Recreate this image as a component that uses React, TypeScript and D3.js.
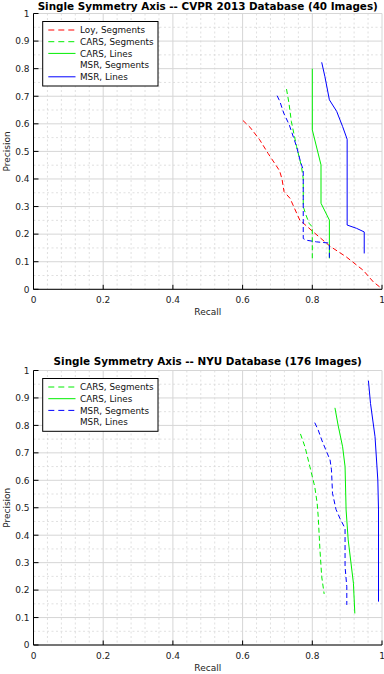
import React from 'react'
import * as d3 from 'd3'

// tick labels
const xTickValues = [0, 0.2, 0.4, 0.6, 0.8, 1]
const xTickLabels = ['0', '0.2', '0.4', '0.6', '0.8', '1']
const yTickValues = [0, 0.1, 0.2, 0.3, 0.4, 0.5, 0.6, 0.7, 0.8, 0.9, 1]
const yTickLabels = ['0', '0.1', '0.2', '0.3', '0.4', '0.5', '0.6', '0.7', '0.8', '0.9', '1']

// CVPR 2013 database, [recall, precision]
const cvprLoySegments: [number, number][] = [
  [0.601, 0.612], [0.621, 0.588], [0.649, 0.542], [0.673, 0.493], [0.695, 0.451],
  [0.706, 0.43], [0.713, 0.40], [0.719, 0.354], [0.736, 0.33], [0.764, 0.251],
  [0.803, 0.208], [0.851, 0.156], [0.898, 0.117], [0.946, 0.069], [0.975, 0.027], [0.994, 0.008],
]
const cvprCarsSegments: [number, number][] = [
  [0.726, 0.726], [0.733, 0.675], [0.74, 0.608], [0.755, 0.517], [0.769, 0.445],
  [0.774, 0.40], [0.774, 0.30], [0.782, 0.269], [0.791, 0.239], [0.80, 0.226], [0.80, 0.105],
]
const cvprCarsLines: [number, number][] = [
  [0.80, 0.80], [0.80, 0.578], [0.825, 0.451], [0.825, 0.312], [0.849, 0.251], [0.849, 0.112],
]
const cvprMsrSegments: [number, number][] = [
  [0.699, 0.702], [0.707, 0.681], [0.718, 0.639], [0.734, 0.596], [0.755, 0.517],
  [0.766, 0.463], [0.774, 0.433], [0.774, 0.184], [0.783, 0.178], [0.812, 0.172],
  [0.846, 0.168], [0.849, 0.168], [0.849, 0.112],
]
const cvprMsrLines: [number, number][] = [
  [0.827, 0.823], [0.836, 0.772], [0.849, 0.687], [0.87, 0.645], [0.887, 0.59],
  [0.90, 0.544], [0.90, 0.233], [0.927, 0.221], [0.949, 0.208], [0.949, 0.13],
]

// NYU database, [recall, precision]
const nyuCarsSegments: [number, number][] = [
  [0.766, 0.769], [0.779, 0.722], [0.793, 0.65], [0.807, 0.577], [0.814, 0.516],
  [0.817, 0.467], [0.822, 0.346], [0.827, 0.249], [0.834, 0.186],
]
const nyuCarsLines: [number, number][] = [
  [0.865, 0.864], [0.874, 0.801], [0.887, 0.722], [0.894, 0.65], [0.897, 0.492],
  [0.903, 0.383], [0.918, 0.225], [0.922, 0.115],
]
const nyuMsrSegments: [number, number][] = [
  [0.807, 0.81], [0.817, 0.783], [0.827, 0.747], [0.841, 0.704], [0.851, 0.674],
  [0.855, 0.638], [0.858, 0.553], [0.868, 0.494], [0.879, 0.462], [0.894, 0.425],
  [0.894, 0.285], [0.899, 0.212], [0.899, 0.146],
]
const nyuMsrLines: [number, number][] = [
  [0.961, 0.963], [0.967, 0.88], [0.98, 0.759], [0.988, 0.601], [0.99, 0.492], [0.99, 0.158],
]

const RED = '#ff0000'
const GREEN = '#00ee00'
const BLUE = '#0000ff'
const DASH = '5,3'
const FONT = 'DejaVu Sans, sans-serif'

type Series = { name: string, data: [number, number][], color: string, dash?: string, sample: boolean }

const cvprSeries: Series[] = [
  { name: 'Loy, Segments', data: cvprLoySegments, color: RED, dash: DASH, sample: true },
  { name: 'CARS, Segments', data: cvprCarsSegments, color: GREEN, dash: DASH, sample: true },
  { name: 'CARS, Lines', data: cvprCarsLines, color: GREEN, sample: true },
  { name: 'MSR, Segments', data: cvprMsrSegments, color: BLUE, dash: DASH, sample: false },
  { name: 'MSR, Lines', data: cvprMsrLines, color: BLUE, sample: true },
]
const nyuSeries: Series[] = [
  { name: 'CARS, Segments', data: nyuCarsSegments, color: GREEN, dash: DASH, sample: true },
  { name: 'CARS, Lines', data: nyuCarsLines, color: GREEN, sample: true },
  { name: 'MSR, Segments', data: nyuMsrSegments, color: BLUE, dash: DASH, sample: true },
  { name: 'MSR, Lines', data: nyuMsrLines, color: BLUE, sample: false },
]

function PrPanel({ id, title, series, top, bottom, titleY }: { id: string, title: string, series: Series[], top: number, bottom: number, titleY: number }) {
  const left = 33.5
  const right = 382
  const x = d3.scaleLinear().domain([0, 1]).range([left, right])
  const y = d3.scaleLinear().domain([0, 1]).range([bottom, top])
  const line = d3.line<[number, number]>().x(d => x(d[0])).y(d => y(d[1]))

  const xMinor = d3.range(0, 1.0001, 0.04).filter(v => Math.abs(v / 0.2 - Math.round(v / 0.2)) > 1e-6)
  const yMinor = d3.range(0.05, 1, 0.1)

  const legX = 42.7
  const legTop = top + 8
  const rowH = 11.7
  const legH = series.length * rowH + 6

  return (
    <g>
      <defs>
        <clipPath id={id}>
          <rect x={left} y={top} width={right - left} height={bottom - top} />
        </clipPath>
      </defs>
      {xMinor.map(v => (
        <line key={'xm' + v} x1={x(v)} x2={x(v)} y1={top} y2={bottom} stroke="#d8d8d8" strokeWidth={0.8} strokeDasharray="2,2.5" />
      ))}
      {yMinor.map(v => (
        <line key={'ym' + v} x1={left} x2={right} y1={y(v)} y2={y(v)} stroke="#d8d8d8" strokeWidth={0.8} strokeDasharray="2,2.5" />
      ))}
      {xTickValues.map(v => (
        <line key={'xg' + v} x1={x(v)} x2={x(v)} y1={top} y2={bottom} stroke="#d6d6d6" strokeWidth={1} />
      ))}
      {yTickValues.map(v => (
        <line key={'yg' + v} x1={left} x2={right} y1={y(v)} y2={y(v)} stroke="#d6d6d6" strokeWidth={1} />
      ))}

      <g clipPath={`url(#${id})`}>
        {series.map(s => (
          <path key={s.name} d={line(s.data) || ''} fill="none" stroke={s.color} strokeWidth={1} strokeDasharray={s.dash} />
        ))}
      </g>

      {/* axes */}
      <line x1={left} x2={left} y1={top} y2={bottom} stroke="#000" strokeWidth={1} />
      <line x1={left} x2={right} y1={bottom} y2={bottom} stroke="#000" strokeWidth={1} />
      {xTickValues.map(v => (
        <line key={'xt' + v} x1={x(v)} x2={x(v)} y1={bottom} y2={bottom - 4.5} stroke="#000" strokeWidth={1} />
      ))}
      {yTickValues.map(v => (
        <line key={'yt' + v} x1={left} x2={left + 5} y1={y(v)} y2={y(v)} stroke="#000" strokeWidth={1} />
      ))}
      {xTickValues.map((v, i) => (
        <text key={'xl' + v} x={x(v)} y={bottom + 13.5} fontSize={9} fontFamily={FONT} textAnchor="middle" fill="#222">{xTickLabels[i]}</text>
      ))}
      {yTickValues.map((v, i) => (
        <text key={'yl' + v} x={left - 4} y={y(v) + 3.3} fontSize={9} fontFamily={FONT} textAnchor="end" fill="#222">{yTickLabels[i]}</text>
      ))}

      <text x={(left + right) / 2} y={bottom + 26} fontSize={9} fontFamily={FONT} textAnchor="middle" fill="#222">Recall</text>
      <text transform={`translate(9.5,${(top + bottom) / 2}) rotate(-90)`} fontSize={9} fontFamily={FONT} textAnchor="middle" fill="#222">Precision</text>
      <text x={(left + right) / 2} y={titleY} fontSize={10.4} fontWeight="bold" fontFamily={FONT} textAnchor="middle" fill="#000">{title}</text>

      {/* legend */}
      <rect x={legX} y={legTop} width={158 - legX} height={legH} fill="#fff" stroke="#000" strokeWidth={1} />
      {series.map((s, i) => {
        const cy = legTop + 8.5 + i * rowH
        return (
          <g key={'lg' + s.name}>
            {s.sample && (
              <line x1={48.3} x2={75.5} y1={cy} y2={cy} stroke={s.color} strokeWidth={1} strokeDasharray={s.dash ? '6,4' : undefined} />
            )}
            <text x={80} y={cy + 3.2} fontSize={8.8} fontFamily={FONT} fill="#111">{s.name}</text>
          </g>
        )
      })}
    </g>
  )
}

export default function App() {
  return (
    <svg width={384} height={674} style={{ position: 'absolute', left: 0, top: 0, background: '#fff' }}>
      <rect x={0} y={0} width={384} height={674} fill="#fff" />
      <PrPanel id="clip-cvpr" title="Single Symmetry Axis -- CVPR 2013 Database (40 Images)" series={cvprSeries} top={13.5} bottom={289.3} titleY={9.5} />
      <PrPanel id="clip-nyu" title="Single Symmetry Axis -- NYU Database (176 Images)" series={nyuSeries} top={370.5} bottom={645} titleY={364.5} />
    </svg>
  )
}
